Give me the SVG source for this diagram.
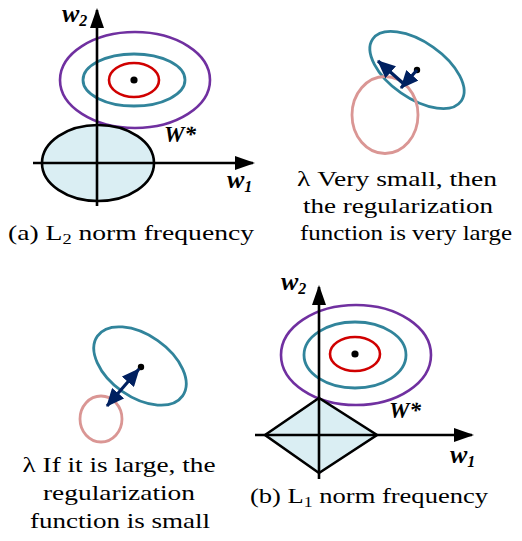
<svg xmlns="http://www.w3.org/2000/svg" width="522" height="541" viewBox="0 0 522 541">
<defs>
<style>
.purple{fill:none;stroke:#7030a0;stroke-width:2.6}
.teal{fill:none;stroke:#31849b;stroke-width:2.8}
.red{fill:none;stroke:#d00000;stroke-width:2.6}
.pink{fill:none;stroke:#da9694;stroke-width:2.8}
.region{fill:#daeef3;stroke:#000;stroke-width:2.6}
.axis{fill:none;stroke:#000;stroke-width:2.6;marker-end:url(#axh)}
.vec{fill:none;stroke:#002060;stroke-width:3.2}
text{font-family:'Liberation Serif','Times New Roman',Times,serif}
.lbl{font-weight:bold;font-style:italic;fill:#000}
.cap{font-size:21px;fill:#000}
</style>
<marker id="axh" viewBox="0 0 20 14" refX="18" refY="7" markerWidth="20" markerHeight="14" markerUnits="userSpaceOnUse" orient="auto">
<path d="M0,0 L20,7 L0,14 z" fill="#000"/>
</marker>
<marker id="vh" viewBox="0 0 18 16" refX="17" refY="8" markerWidth="18" markerHeight="16" markerUnits="userSpaceOnUse" orient="auto-start-reverse">
<path d="M0,0 L18,8 L0,16 z" fill="#002060"/>
</marker>
</defs>

<g id="panel-a">
<ellipse class="purple" cx="135" cy="80" rx="75" ry="48"/>
<ellipse class="teal" cx="134" cy="80" rx="51" ry="26"/>
<ellipse class="red" cx="134" cy="80" rx="25" ry="17"/>
<circle cx="134" cy="80" r="3.6" fill="#000"/>
<ellipse class="region" cx="98" cy="163" rx="56" ry="38"/>
<text class="lbl" x="62" y="22" font-size="26">w<tspan font-size="16" dy="4">2</tspan></text>
<text class="lbl" x="227" y="188" font-size="26">w<tspan font-size="16" dy="4">1</tspan></text>
<text class="lbl" x="164" y="142" font-size="23">W*</text>
<text class="cap" x="131" y="240" text-anchor="middle" textLength="246" lengthAdjust="spacingAndGlyphs">(a) L<tspan font-size="14" dy="4">2</tspan><tspan dy="-4"> norm frequency</tspan></text>
</g>

<g id="panel-small-lambda">
<ellipse class="teal" cx="0" cy="0" rx="54" ry="28" transform="translate(417,70) rotate(35)"/>
<ellipse class="pink" cx="385" cy="115" rx="33" ry="38.5"/>
<circle cx="417" cy="70" r="3.2" fill="#000"/>
<text class="cap" x="397" y="186" text-anchor="middle" textLength="200" lengthAdjust="spacingAndGlyphs">λ Very small, then</text>
<text class="cap" x="398" y="213" text-anchor="middle" textLength="190" lengthAdjust="spacingAndGlyphs">the regularization</text>
<text class="cap" x="406" y="240" text-anchor="middle" textLength="212" lengthAdjust="spacingAndGlyphs">function is very large</text>
</g>

<g id="panel-large-lambda">
<ellipse class="teal" cx="0" cy="0" rx="52" ry="31" transform="translate(140,366) rotate(35)"/>
<ellipse class="pink" cx="101" cy="419" rx="21" ry="23"/>
<circle cx="141" cy="367" r="3.2" fill="#000"/>
<text class="cap" x="119" y="472" text-anchor="middle" textLength="193" lengthAdjust="spacingAndGlyphs">λ If it is large, the</text>
<text class="cap" x="119" y="500" text-anchor="middle" textLength="152" lengthAdjust="spacingAndGlyphs">regularization</text>
<text class="cap" x="120" y="528" text-anchor="middle" textLength="180" lengthAdjust="spacingAndGlyphs">function is small</text>
</g>

<g id="panel-b">
<ellipse class="purple" cx="356" cy="355" rx="75" ry="50"/>
<ellipse class="teal" cx="355" cy="355" rx="51" ry="33"/>
<ellipse class="red" cx="355" cy="354" rx="25" ry="17"/>
<circle cx="355" cy="354" r="3.6" fill="#000"/>
<polygon class="region" points="265,435 319,398 377,435 319,473"/>
<text class="lbl" x="281" y="290" font-size="26">w<tspan font-size="16" dy="4">2</tspan></text>
<text class="lbl" x="450" y="463" font-size="26">w<tspan font-size="16" dy="4">1</tspan></text>
<text class="lbl" x="389" y="418" font-size="23">W*</text>
<text class="cap" x="369" y="503" text-anchor="middle" textLength="238" lengthAdjust="spacingAndGlyphs">(b) L<tspan font-size="14" dy="4">1</tspan><tspan dy="-4"> norm frequency</tspan></text>
</g>

<g id="connectors">
<line class="axis" x1="97" y1="206" x2="97" y2="10"/>
<line class="axis" x1="33" y1="163" x2="253" y2="163"/>
<line class="axis" x1="319" y1="479" x2="319" y2="287"/>
<line class="axis" x1="255" y1="435" x2="472" y2="435"/>
<line class="vec" x1="417" y1="70" x2="401" y2="88" marker-end="url(#vh)"/>
<line class="vec" x1="405" y1="85" x2="378" y2="61" marker-end="url(#vh)"/>
<line class="vec" x1="107" y1="406" x2="139" y2="369" marker-start="url(#vh)" marker-end="url(#vh)"/>
</g>
</svg>
